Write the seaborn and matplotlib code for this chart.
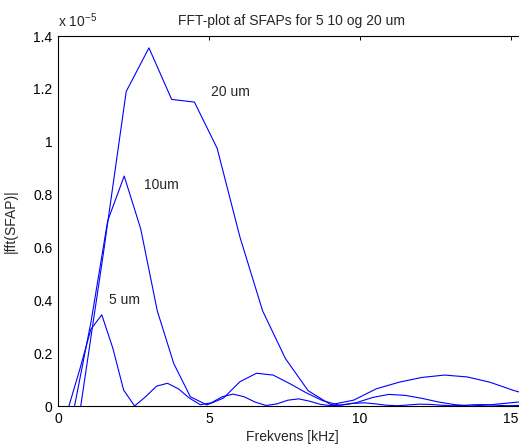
import matplotlib
matplotlib.use("Agg")
import matplotlib.pyplot as plt
import seaborn as sns
import pandas as pd

# frequencies (kHz) and |fft| amplitudes (x 1e-5)
freq_5 = [0.3625, 0.725, 1.0875, 1.45, 1.8125, 2.175, 2.5375, 2.9, 3.2625, 3.625,
          3.9875, 4.35, 4.7125, 5.075, 5.4375, 5.8, 6.1625, 6.525, 6.8875, 7.25,
          7.6125, 7.975, 8.3375, 8.7, 9.0625, 9.425, 9.7875, 10.15, 10.5125, 10.875,
          11.2375, 11.6, 11.9625, 12.325, 12.6875, 13.05, 13.4125, 13.775, 14.1375,
          14.5, 14.8625, 15.225, 15.5875]
amp_5 = [0.0, 0.14, 0.29, 0.345, 0.22, 0.06, 0.0, 0.035, 0.075, 0.086,
         0.065, 0.03, 0.005, 0.012, 0.035, 0.045, 0.035, 0.015, 0.002, 0.008,
         0.022, 0.027, 0.018, 0.006, 0.001, 0.004, 0.01, 0.012, 0.008, 0.003,
         0.001, 0.004, 0.007, 0.006, 0.003, 0.001, 0.002, 0.005, 0.005,
         0.003, 0.001, 0.002, 0.004]

freq_10 = [0.548, 1.096, 1.644, 2.192, 2.74, 3.288, 3.836, 4.384, 4.932, 5.48,
           6.028, 6.576, 7.124, 7.672, 8.22, 8.768, 9.316, 9.864, 10.412, 10.96,
           11.508, 12.056, 12.604, 13.152, 13.7, 14.248, 14.796, 15.344, 15.892]
amp_10 = [0.0, 0.32, 0.70, 0.87, 0.67, 0.36, 0.16, 0.035, 0.004, 0.03,
          0.092, 0.124, 0.117, 0.085, 0.05, 0.02, 0.003, 0.012, 0.032, 0.044,
          0.04, 0.029, 0.015, 0.005, 0.0, 0.004, 0.01, 0.016, 0.02]

freq_20 = [0.753, 1.506, 2.259, 3.012, 3.765, 4.518, 5.271, 6.024, 6.777, 7.53,
           8.283, 9.036, 9.789, 10.542, 11.295, 12.048, 12.801, 13.554, 14.307,
           15.06, 15.813]
amp_20 = [0.0, 0.58, 1.19, 1.355, 1.16, 1.15, 0.975, 0.64, 0.36, 0.18,
          0.058, 0.005, 0.022, 0.065, 0.09, 0.108, 0.117, 0.11, 0.09,
          0.06, 0.035]

labels = ["5 um", "10um", "20 um"]
label_x = [1.69, 2.85, 5.07]
label_y = [0.40, 0.836, 1.188]

x_ticks = [0, 5, 10, 15]
y_ticks = [0, 0.2, 0.4, 0.6, 0.8, 1.0, 1.2, 1.4]
y_tick_labels = ["0", "0.2", "0.4", "0.6", "0.8", "1", "1.2", "1.4"]

df = pd.concat([
    pd.DataFrame({"freq": freq_5, "amp": amp_5, "d": "5"}),
    pd.DataFrame({"freq": freq_10, "amp": amp_10, "d": "10"}),
    pd.DataFrame({"freq": freq_20, "amp": amp_20, "d": "20"}),
], ignore_index=True)

sns.set_style("white")
plt.rcParams["font.family"] = ["Liberation Sans", "DejaVu Sans"]
plt.rcParams["mathtext.fontset"] = "custom"
plt.rcParams["mathtext.rm"] = "Liberation Sans"
plt.rcParams["mathtext.it"] = "Liberation Sans"

W, H = 519, 445
fig = plt.figure(figsize=(W / 100, H / 100), dpi=100)
ax = fig.add_axes([58 / W, 39 / H, 468 / W, 370 / H])

sns.lineplot(data=df, x="freq", y="amp", hue="d", units="d", estimator=None,
             sort=False, palette={"5": "#0000ff", "10": "#0000ff", "20": "#0000ff"},
             legend=False, linewidth=0.8, ax=ax)

ax.set_xlim(0, 15.5)
ax.set_ylim(0, 1.4)
ax.set_xticks(x_ticks)
ax.set_xticklabels([str(t) for t in x_ticks])
ax.set_yticks(y_ticks)
ax.set_yticklabels(y_tick_labels)
ax.tick_params(direction="in", top=True, right=True, length=3, width=0.7,
               labelsize=10, colors="black", pad=4)
for s in ax.spines.values():
    s.set_visible(True)
    s.set_color("black")
    s.set_linewidth(0.8)

ax.set_title("FFT-plot af SFAPs for 5 10 og 20 um", fontsize=10, pad=8)
ax.set_xlabel("Frekvens [kHz]", fontsize=10, labelpad=3)
ax.set_ylabel("|fft(SFAP)|", fontsize=10)
ax.yaxis.set_label_coords(-0.085, 0.5)

for lx, ly, t in zip(label_x, label_y, labels):
    ax.text(lx, ly, t, fontsize=10, ha="left", va="center")

fig.text(58 / W, 1 - 27 / H, r"x 10$^{-5}$", fontsize=10, ha="left", va="baseline")

fig.savefig("out.png", dpi=100)
